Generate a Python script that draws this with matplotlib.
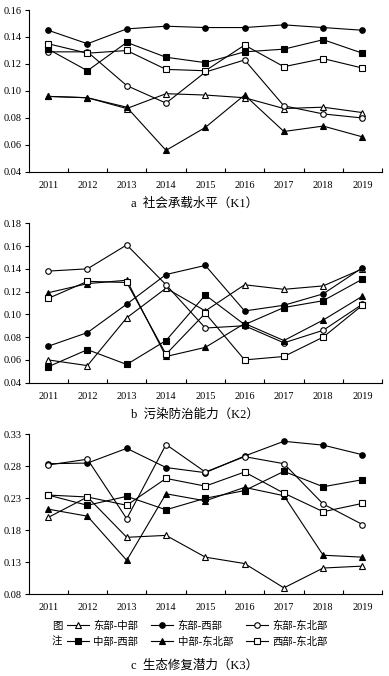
import matplotlib.pyplot as plt
from matplotlib.ticker import FixedLocator

plt.rcParams['font.family'] = ['Liberation Serif', 'Noto Sans CJK SC']

years = ["2011", "2012", "2013", "2014", "2015", "2016", "2017", "2018", "2019"]
series_names = ["东部-中部", "东部-西部", "东部-东北部", "中部-西部", "中部-东北部", "西部-东北部"]

# a 社会承载水平 (K1)
k1 = {
    "东部-中部": [0.096, 0.095, 0.087, 0.098, 0.097, 0.095, 0.087, 0.088, 0.084],
    "东部-西部": [0.145, 0.135, 0.146, 0.148, 0.147, 0.147, 0.149, 0.147, 0.145],
    "东部-东北部": [0.129, 0.129, 0.104, 0.091, 0.114, 0.123, 0.089, 0.083, 0.080],
    "中部-西部": [0.131, 0.115, 0.136, 0.125, 0.121, 0.129, 0.131, 0.138, 0.128],
    "中部-东北部": [0.096, 0.095, 0.088, 0.056, 0.073, 0.097, 0.070, 0.074, 0.066],
    "西部-东北部": [0.135, 0.128, 0.130, 0.116, 0.115, 0.134, 0.118, 0.124, 0.117],
}

# b 污染防治能力 (K2)
k2 = {
    "东部-中部": [0.060, 0.055, 0.097, 0.123, 0.103, 0.126, 0.122, 0.125, 0.140],
    "东部-西部": [0.072, 0.084, 0.109, 0.135, 0.143, 0.103, 0.108, 0.118, 0.141],
    "东部-东北部": [0.138, 0.140, 0.161, 0.126, 0.088, 0.090, 0.075, 0.086, 0.109],
    "中部-西部": [0.054, 0.069, 0.056, 0.077, 0.117, 0.091, 0.106, 0.112, 0.131],
    "中部-东北部": [0.119, 0.127, 0.130, 0.063, 0.071, 0.092, 0.077, 0.095, 0.116],
    "西部-东北部": [0.114, 0.129, 0.128, 0.065, 0.101, 0.060, 0.063, 0.080, 0.108],
}

# c 生态修复潜力 (K3)
k3 = {
    "东部-中部": [0.200, 0.232, 0.169, 0.172, 0.138, 0.128, 0.090, 0.121, 0.124],
    "东部-西部": [0.284, 0.285, 0.308, 0.278, 0.270, 0.296, 0.319, 0.313, 0.298],
    "东部-东北部": [0.282, 0.291, 0.198, 0.314, 0.271, 0.295, 0.284, 0.221, 0.189],
    "中部-西部": [0.235, 0.219, 0.233, 0.212, 0.230, 0.242, 0.272, 0.248, 0.259],
    "中部-东北部": [0.213, 0.202, 0.133, 0.237, 0.226, 0.247, 0.234, 0.141, 0.138],
    "西部-东北部": [0.235, 0.232, 0.219, 0.261, 0.249, 0.271, 0.238, 0.209, 0.222],
}

styles = {
    "东部-中部": dict(marker="^", mfc="white"),
    "东部-西部": dict(marker="o", mfc="black"),
    "东部-东北部": dict(marker="o", mfc="white"),
    "中部-西部": dict(marker="s", mfc="black"),
    "中部-东北部": dict(marker="^", mfc="black"),
    "西部-东北部": dict(marker="s", mfc="white"),
}

panels = [
    (k1, [0.04, 0.06, 0.08, 0.10, 0.12, 0.14, 0.16],
     [0.0733, 0.7456, 0.909, 0.2396], "a  社会承载水平（K1）", 204),
    (k2, [0.04, 0.06, 0.08, 0.10, 0.12, 0.14, 0.16, 0.18],
     [0.0733, 0.4339, 0.909, 0.2358], "b  污染防治能力（K2）", 415),
    (k3, [0.08, 0.13, 0.18, 0.23, 0.28, 0.33],
     [0.0733, 0.1209, 0.909, 0.2367], "c  生态修复潜力（K3）", 666),
]

fig = plt.figure(figsize=(3.89, 6.76), dpi=100)
x = list(range(1, len(years) + 1))
handles = {}

for data, yticks, rect, caption, cap_y in panels:
    ax = fig.add_axes(rect)
    for name in series_names:
        st = styles[name]
        h, = ax.plot(x, data[name], color="black", lw=0.8,
                     marker=st["marker"], markersize=4, mfc=st["mfc"],
                     mec="black", mew=0.8)
        handles[name] = h
    ax.set_xlim(0.5, 9.5)
    ax.set_ylim(yticks[0], yticks[-1])
    ax.set_yticks(yticks)
    ax.set_yticklabels(["{:.2f}".format(v) for v in yticks])
    ax.set_xticks(x)
    ax.set_xticklabels(years)
    ax.xaxis.set_minor_locator(FixedLocator([i + 0.5 for i in x]))
    ax.tick_params(axis="x", which="major", length=0, pad=6.5, labelsize=7.4)
    ax.tick_params(axis="x", which="minor", direction="in", length=3, width=0.8)
    ax.tick_params(axis="y", length=3, width=0.8, pad=2, labelsize=7.4)
    for side in ["top", "right"]:
        ax.spines[side].set_visible(False)
    for side in ["left", "bottom"]:
        ax.spines[side].set_linewidth(0.8)
    fig.text(0.5, 1 - cap_y / 676, caption, ha="center", va="center", fontsize=9)

# legend rows: 东部-中部 / 东部-西部 / 东部-东北部, then 中部-西部 / 中部-东北部 / 西部-东北部
order = ["东部-中部", "中部-西部", "东部-西部", "中部-东北部", "东部-东北部", "西部-东北部"]
fig.legend([handles[n] for n in order], order, ncol=3, frameon=False,
           loc="center left", bbox_to_anchor=(0.172, 1 - 634 / 676),
           fontsize=7.5, handlelength=2.1, handletextpad=0.4,
           columnspacing=1.3, labelspacing=0.55, borderaxespad=0, borderpad=0)
fig.text(57 / 389, 1 - 626 / 676, "图", ha="center", va="center", fontsize=7.5)
fig.text(57 / 389, 1 - 642 / 676, "注", ha="center", va="center", fontsize=7.5)

fig.savefig("out.png", dpi=100)
